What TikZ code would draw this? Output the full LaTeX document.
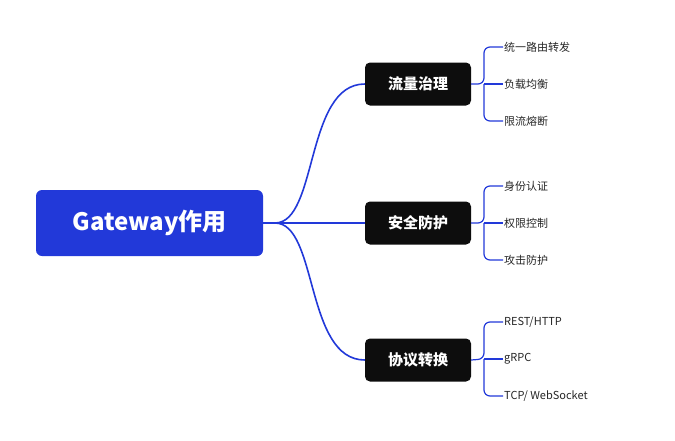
\documentclass[tikz,border=0pt]{standalone}
\usepackage{fontspec}
\setmainfont{Noto Sans CJK SC}
\definecolor{gwblue}{HTML}{2239D9}
\definecolor{topic}{HTML}{0D0D0D}
\begin{document}
\begin{tikzpicture}[x=1pt, y=-1pt,
    root/.style={fill=gwblue, rounded corners=6pt, minimum width=227pt, minimum height=66pt, text=white, font=\bfseries\fontsize{24}{28}\selectfont},
    topic/.style={fill=topic, rounded corners=5pt, minimum width=106pt, minimum height=43pt, text=white, font=\bfseries\fontsize{15}{18}\selectfont},
    leaf/.style={anchor=west, inner sep=1pt, font=\fontsize{11}{13}\selectfont, text=black!85},
    link/.style={gwblue, line width=1.6pt},
    twig/.style={gwblue, line width=1.2pt, rounded corners=6pt}
]
    \useasboundingbox (0,0) rectangle (675,440);
    \node[root] (root) at (149.5,223) {Gateway作用};
    \coordinate (hub) at (275,223);
    \node[topic] (flow) at (418,84) {流量治理};
    \node[topic] (safe) at (418,223) {安全防护};
    \node[topic] (proto) at (418,360) {协议转换};

    \draw[link] (root.east) -- (hub);
    \draw[link] (hub) .. controls (318,223) and (305,84) .. (flow.west);
    \draw[link] (hub) -- (safe.west);
    \draw[link] (hub) .. controls (318,223) and (305,360) .. (proto.west);

    % leaves
    \foreach \tp/\y/\a/\b/\c in {flow/84/统一路由转发/负载均衡/限流熔断,
                                 safe/223/身份认证/权限控制/攻击防护,
                                 proto/359/{REST/HTTP}/gRPC/{TCP/ WebSocket}}{
        \coordinate (\tp-bar) at (484,\y);
        \node[leaf] (\tp-a) at (503,\y-37) {\a};
        \node[leaf] (\tp-b) at (503,\y) {\b};
        \node[leaf] (\tp-c) at (503,\y+37) {\c};
        \draw[twig] (\tp.east) -- (\tp-bar) |- (\tp-a.west);
        \draw[twig] (\tp-bar) -- (\tp-b.west);
        \draw[twig] (\tp-bar) |- (\tp-c.west);
    }
\end{tikzpicture}
\end{document}
